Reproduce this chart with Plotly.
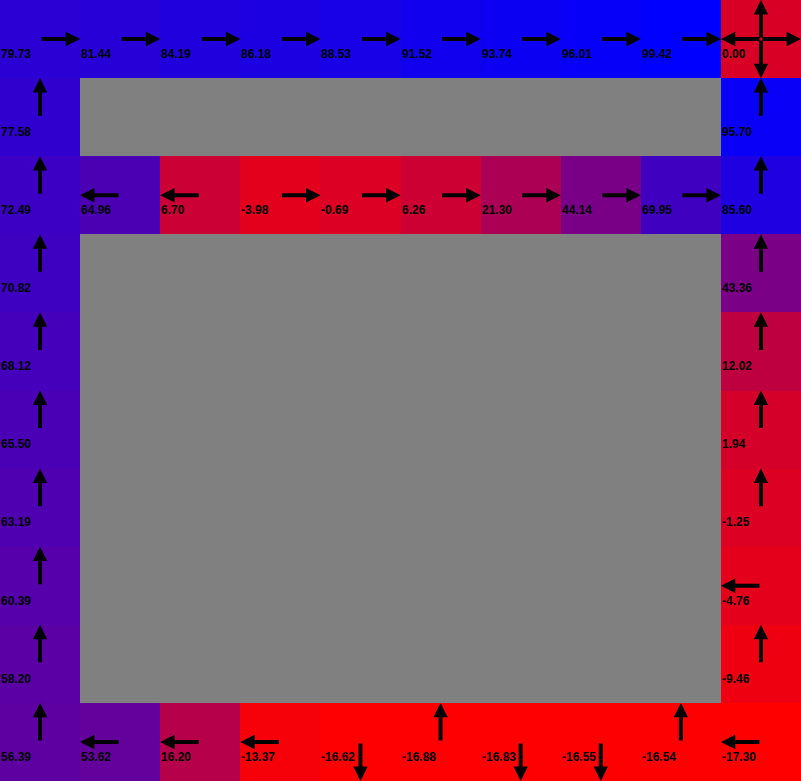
import numpy as np
import plotly.graph_objects as go

N = None
values = [
    [79.73, 81.44, 84.19, 86.18, 88.53, 91.52, 93.74, 96.01, 99.42, 0.00],
    [77.58, N, N, N, N, N, N, N, N, 95.70],
    [72.49, 64.96, 6.70, -3.98, -0.69, 6.26, 21.30, 44.14, 69.95, 85.60],
    [70.82, N, N, N, N, N, N, N, N, 43.36],
    [68.12, N, N, N, N, N, N, N, N, 12.02],
    [65.50, N, N, N, N, N, N, N, N, 1.94],
    [63.19, N, N, N, N, N, N, N, N, -1.25],
    [60.39, N, N, N, N, N, N, N, N, -4.76],
    [58.20, N, N, N, N, N, N, N, N, -9.46],
    [56.39, 53.62, 16.20, -13.37, -16.62, -16.88, -16.83, -16.55, -16.54, -17.30],
]

policy = [
    ["R", "R", "R", "R", "R", "R", "R", "R", "R", "URDL"],
    ["U", "", "", "", "", "", "", "", "", "U"],
    ["U", "L", "L", "R", "R", "R", "R", "R", "R", "U"],
    ["U", "", "", "", "", "", "", "", "", "U"],
    ["U", "", "", "", "", "", "", "", "", "U"],
    ["U", "", "", "", "", "", "", "", "", "U"],
    ["U", "", "", "", "", "", "", "", "", "U"],
    ["U", "", "", "", "", "", "", "", "", "L"],
    ["U", "", "", "", "", "", "", "", "", "U"],
    ["U", "L", "L", "L", "D", "U", "D", "D", "U", "L"],
]

z = np.array([[np.nan if v is None else v for v in row] for row in values], dtype=float)
nrows, ncols = z.shape

fig = go.Figure()
fig.add_trace(go.Heatmap(
    z=z,
    x=list(range(ncols)),
    y=list(range(nrows)),
    zmin=np.nanmin(z), zmax=np.nanmax(z),
    colorscale=[[0, "rgb(255,0,0)"], [1, "rgb(0,0,255)"]],
    showscale=False,
    hoverongaps=False,
))

dirs = {"U": (0, -0.5), "D": (0, 0.5), "L": (-0.5, 0), "R": (0.5, 0)}
annotations = []
for r in range(nrows):
    for c in range(ncols):
        for d in policy[r][c]:
            dx, dy = dirs[d]
            annotations.append(dict(
                x=c + dx, y=r + dy, ax=c, ay=r,
                xref="x", yref="y", axref="x", ayref="y",
                showarrow=True, arrowhead=2, arrowsize=0.72, arrowwidth=4,
                arrowcolor="black", standoff=0, startstandoff=0, text="",
            ))
        if values[r][c] is not None:
            annotations.append(dict(
                x=c - 0.5, y=r + 0.19, xref="x", yref="y",
                xanchor="left", yanchor="middle", showarrow=False,
                text="<b>%.2f</b>" % values[r][c],
                font=dict(family="Liberation Sans", size=12, color="black"),
                borderpad=0,
            ))

fig.update_layout(
    width=801, height=781,
    margin=dict(l=0, r=0, t=0, b=0),
    plot_bgcolor="rgb(128,128,128)",
    paper_bgcolor="white",
    xaxis=dict(range=[-0.5, ncols - 0.5], visible=False, fixedrange=True),
    yaxis=dict(range=[nrows - 0.5, -0.5], visible=False, fixedrange=True),
    annotations=annotations,
    showlegend=False,
)

fig.write_html("out.html")
